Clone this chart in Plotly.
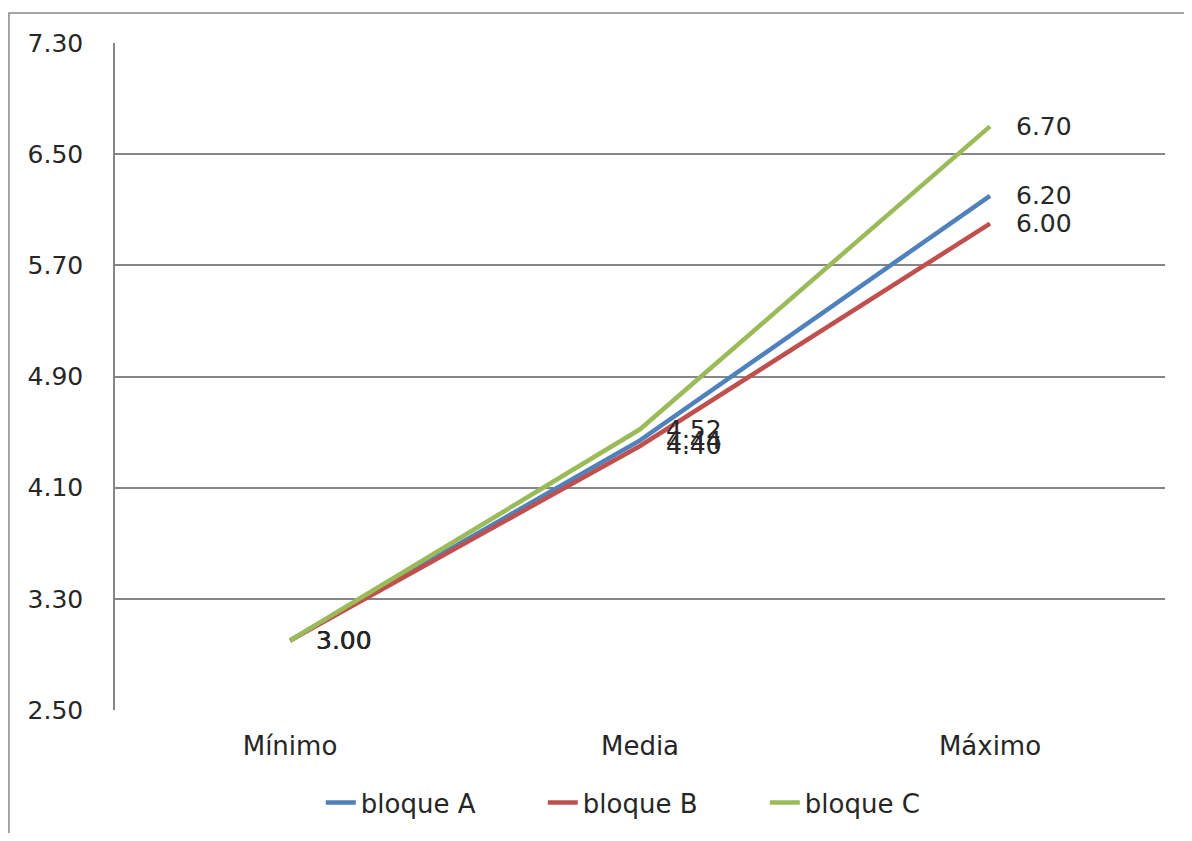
import plotly.graph_objects as go

categories = ["Mínimo", "Media", "Máximo"]
bloque_a = [3.00, 4.44, 6.20]
bloque_b = [3.00, 4.40, 6.00]
bloque_c = [3.00, 4.52, 6.70]
series_names = ["bloque A", "bloque B", "bloque C"]
colors = ["#4F81BD", "#C0504D", "#9BBB59"]
tick_vals = [2.50, 3.30, 4.10, 4.90, 5.70, 6.50, 7.30]
tick_text = ["2.50", "3.30", "4.10", "4.90", "5.70", "6.50", "7.30"]

FONT = "DejaVu Sans"
TXT = "#262626"
fig = go.Figure()
annotations = []
for name, vals, col in zip(series_names, [bloque_a, bloque_b, bloque_c], colors):
    fig.add_trace(go.Scatter(x=categories, y=vals, mode="lines", name=name,
                             line=dict(color=col, width=4.5)))
    for c, v in zip(categories, vals):
        annotations.append(dict(x=c, y=v, text=f"{v:.2f}", showarrow=False,
                                xanchor="left", yanchor="middle", xshift=24,
                                font=dict(family=FONT, size=25, color=TXT)))

W, H = 1176, 825
fig.update_layout(
    width=W, height=H,
    margin=dict(l=107, r=19, t=35, b=123, autoexpand=False),
    paper_bgcolor="white", plot_bgcolor="white",
    font=dict(family=FONT, size=25, color=TXT),
    showlegend=True,
    legend=dict(orientation="h", x=0.196, xanchor="left", y=-0.1035, yanchor="top",
                font=dict(family=FONT, size=26, color=TXT),
                entrywidth=177, entrywidthmode="pixels"),
    annotations=annotations,
    shapes=[dict(type="rect", xref="paper", yref="paper", x0=-0.101, x1=1.2,
                 y0=-0.5, y1=1.045, line=dict(color="#888888", width=1.5))],
)
fig.update_xaxes(range=[-0.5, 2.5], showgrid=False, showline=False, zeroline=False,
                 ticks="", ticklabelstandoff=18, tickfont=dict(size=26))
fig.update_yaxes(range=[2.5, 7.3], tickvals=tick_vals, ticktext=tick_text,
                 showgrid=True, gridcolor="#868686", gridwidth=1.5,
                 showline=True, linecolor="#868686", linewidth=1.5, zeroline=False,
                 ticks="", ticklabelstandoff=25, tickfont=dict(size=25))

fig.write_html("out.html")
